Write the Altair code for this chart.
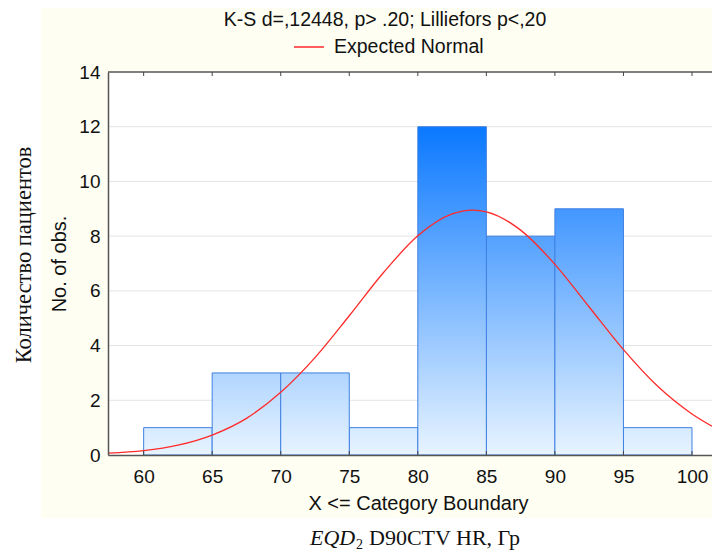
import altair as alt
import pandas as pd

# ---- data ----
bin_start = [60, 65, 70, 75, 80, 85, 90, 95]
bin_end = [65, 70, 75, 80, 85, 90, 95, 100]
counts = [1, 3, 3, 1, 12, 8, 9, 1]

curve_x = [57.4, 60, 62.5, 65, 67.5, 70, 72.5, 75, 77.5, 80, 82.5, 84, 85, 87.5,
           90, 92.5, 95, 97.5, 100, 101.46]
curve_y = [0.07, 0.16, 0.36, 0.73, 1.34, 2.29, 3.56, 5.09, 6.67, 8.01, 8.81, 8.95,
           8.89, 8.22, 6.97, 5.41, 3.85, 2.51, 1.50, 1.05]

x_ticks = [60, 65, 70, 75, 80, 85, 90, 95, 100]
y_ticks = [0, 2, 4, 6, 8, 10, 12, 14]

title_text = "K-S d=,12448, p> .20; Lilliefors p<,20"
legend_text = "Expected Normal"
x_title = "X <= Category Boundary"
y_title = "No. of obs."
outer_y_title = "Количество пациентов"

W, H = 604, 383
X_DOM = [57.4, 101.46]
Y_DOM = [0, 14]

bars = pd.DataFrame({"start": bin_start, "end": bin_end, "count": counts, "base": [0] * len(counts)})
curve = pd.DataFrame({"x": curve_x, "y": curve_y})

xs = alt.Scale(domain=X_DOM, nice=False, zero=False)
ys = alt.Scale(domain=Y_DOM, nice=False)

AX = dict(grid=False, tickSize=0, zindex=2, domainColor="#555555", domainWidth=1.5, labelFlush=False,
          labelFont="Liberation Sans", labelFontSize=19, labelColor="#111111",
          titleFont="Liberation Sans", titleFontSize=20, titleFontWeight="normal", titleColor="#111111")
xax = alt.Axis(title=x_title, values=x_ticks, labelPadding=12, titlePadding=7, titleX=310, **AX)
yax = alt.Axis(title=y_title, values=y_ticks, labelPadding=8, titlePadding=9, **AX)

LIGHT = (232, 244, 255)
DARK = (10, 120, 255)


def shade(h):
    f = h / 12.0
    c = [round(LIGHT[i] + (DARK[i] - LIGHT[i]) * f) for i in range(3)]
    return "#%02x%02x%02x" % tuple(c)


one = pd.DataFrame({"a": [0]})

# cream background panel and white plot area
cream = alt.Chart(one).mark_rect(color="#fefef2").encode(
    x=alt.value(-67), x2=alt.value(W + 10), y=alt.value(-65), y2=alt.value(H + 63)
)
white = alt.Chart(one).mark_rect(color="white").encode(
    x=alt.value(0), x2=alt.value(W), y=alt.value(0), y2=alt.value(H)
)

grid = alt.Chart(pd.DataFrame({"v": y_ticks[1:-1]})).mark_rule(color="#e4e4e4", strokeWidth=1).encode(
    y=alt.Y("v:Q", scale=ys, axis=yax)
)

bar_layers = []
for h in sorted(set(counts)):
    grad = alt.Gradient(
        gradient="linear",
        stops=[alt.GradientStop(color=shade(h), offset=0), alt.GradientStop(color=shade(0), offset=1)],
        x1=0, x2=0, y1=0, y2=1,
    )
    bar_layers.append(
        alt.Chart(bars[bars["count"] == h]).mark_rect(fill=grad, stroke="#3f80e2", strokeWidth=1).encode(
            x=alt.X("start:Q", scale=xs, axis=xax),
            x2="end:Q",
            y=alt.Y("count:Q", scale=ys, axis=yax),
            y2="base:Q",
        )
    )

line = alt.Chart(curve).mark_line(color="#ff2a2a", strokeWidth=1.3, interpolate="monotone").encode(
    x=alt.X("x:Q", scale=xs, axis=xax),
    y=alt.Y("y:Q", scale=ys, axis=yax),
)

# top frame line and inward ticks
top_rule = alt.Chart(pd.DataFrame({"v": [14]})).mark_rule(color="#555555", strokeWidth=1.5).encode(
    y=alt.Y("v:Q", scale=ys, axis=yax)
)
tick_df = pd.DataFrame({"t": x_ticks})
top_ticks = alt.Chart(tick_df).mark_rule(color="#444444", strokeWidth=1).encode(
    x=alt.X("t:Q", scale=xs, axis=xax), y=alt.value(0), y2=alt.value(4)
)
bottom_ticks = alt.Chart(tick_df).mark_rule(color="#444444", strokeWidth=1).encode(
    x=alt.X("t:Q", scale=xs, axis=xax), y=alt.value(H - 4), y2=alt.value(H)
)


# title, legend, outer labels
def txt(s, x, y, size, font="Liberation Sans", align="center", angle=0, style="normal", baseline="middle"):
    kw = dict(text=s, fontSize=size, font=font, align=align, baseline=baseline, color="#111111",
              fontStyle=style)
    if angle:
        kw["angle"] = angle
    return alt.Chart(one).mark_text(**kw).encode(x=alt.value(x), y=alt.value(y))


title = txt(title_text, 277, -52, 19.5)
legend_line = alt.Chart(one).mark_rule(color="#ff2a2a", strokeWidth=1.5).encode(
    x=alt.value(186), x2=alt.value(216), y=alt.value(-25)
)
legend_label = txt(legend_text, 226, -25, 19.5, align="left")
outer_y = txt(outer_y_title, -84, 183, 22.5, font="Liberation Serif", angle=270)
eqd = txt("EQD", 202, H + 90, 22, font="Liberation Serif", align="left", style="italic",
          baseline="alphabetic")
sub2 = txt("2", 248, H + 94, 14, font="Liberation Serif", align="left", baseline="alphabetic")
rest = txt("D90CTV HR, Гр", 261, H + 90, 22, font="Liberation Serif", align="left",
           baseline="alphabetic")

chart = alt.layer(
    cream, white, grid, *bar_layers, line, top_rule, top_ticks, bottom_ticks,
    title, legend_line, legend_label, outer_y, eqd, sub2, rest,
).properties(
    width=W, height=H,
    autosize=alt.AutoSizeParams(type="none"),
    padding={"left": 100, "top": 64, "right": 0, "bottom": 102},
).configure(background="white").configure_view(stroke=None)

chart.save("out.html", embed_options={"renderer": "svg", "actions": False})
